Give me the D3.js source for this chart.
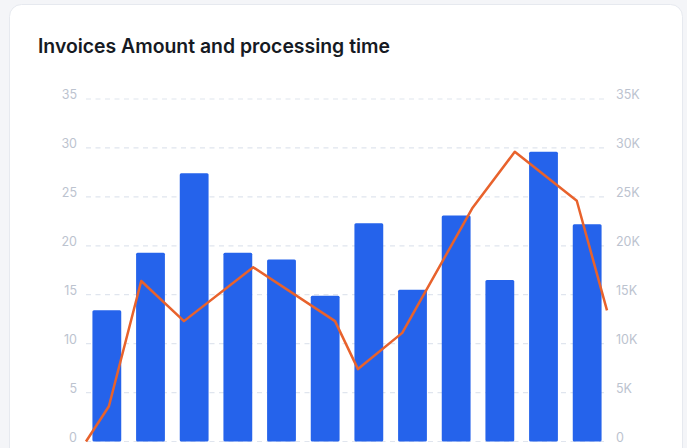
<!DOCTYPE html>
<html>
<head>
<meta charset="utf-8">
<script src="https://cdn.jsdelivr.net/npm/d3@7"></script>
<style>
  html, body { margin: 0; padding: 0; background: #f4f5f8; }
  body { width: 687px; height: 448px; overflow: hidden; }
  svg { display: block; font-family: Inter, "Noto Sans", sans-serif; }
</style>
</head>
<body>
<svg id="chart" width="687" height="448"></svg>
<script>
// invoices per period (bars, left axis)
var categories = ["P1", "P2", "P3", "P4", "P5", "P6", "P7", "P8", "P9", "P10", "P11", "P12"];
var invoiceCounts = [13.4, 19.3, 27.4, 19.3, 18.6, 14.9, 22.3, 15.5, 23.1, 16.5, 29.6, 22.2];

// amount line (right axis), positioned on its own time axis (0-100 of the period)
var amountX = [0, 4.4, 10.6, 18.8, 32.1, 47.8, 52.2, 60.7, 74.1, 82.3, 94.2, 100];
var amountValues = [0, 3600, 16400, 12300, 17800, 12300, 7400, 11100, 23800, 29600, 24600, 13400];

var leftTicks = [0, 5, 10, 15, 20, 25, 30, 35];
var rightTicks = [0, 5000, 10000, 15000, 20000, 25000, 30000, 35000];

var svg = d3.select("#chart");

// card
svg.append("rect")
    .attr("x", 9.5).attr("y", 4.5)
    .attr("width", 673).attr("height", 470)
    .attr("rx", 12)
    .attr("fill", "#ffffff")
    .attr("stroke", "#e6e9ef");

svg.append("text")
    .attr("x", 38)
    .attr("y", 53)
    .attr("fill", "#161a23")
    .attr("font-size", 19.4)
    .attr("font-weight", 600)
    .text("Invoices Amount and processing time");

var plotLeft = 86, plotRight = 607, plotTop = 99, plotBottom = 441.5;

var x = d3.scaleBand()
    .domain(categories)
    .range([85, 609])
    .paddingInner(0.34)
    .paddingOuter(0.17);

var xLine = d3.scaleLinear().domain([0, 100]).range([plotLeft, plotRight]);

var y = d3.scaleLinear().domain([0, 35]).range([plotBottom, plotTop]);
var y2 = d3.scaleLinear().domain([0, 35000]).range([plotBottom, plotTop]);

// grid
svg.append("g")
    .selectAll("line")
    .data(leftTicks)
    .enter().append("line")
        .attr("x1", plotLeft).attr("x2", plotRight)
        .attr("y1", function(d) { return y(d); })
        .attr("y2", function(d) { return y(d); })
        .attr("stroke", "#e0e5ee")
        .attr("stroke-width", 1.2)
        .attr("stroke-dasharray", "5,4.5");

// left axis (labels sit a little above their grid line)
var yAxis = d3.axisLeft(y).tickValues(leftTicks).tickSize(0).tickPadding(0);
var gl = svg.append("g")
    .attr("transform", "translate(77,-4.5)")
    .call(yAxis);
gl.select(".domain").remove();
gl.selectAll("text")
    .attr("fill", "#bcc3cf")
    .attr("font-size", 12.5)
    .attr("font-family", "Inter, sans-serif");

// right axis
var yAxis2 = d3.axisRight(y2).tickValues(rightTicks).tickSize(0).tickPadding(0)
    .tickFormat(function(d) { return d === 0 ? "0" : (d / 1000) + "K"; });
var gr = svg.append("g")
    .attr("transform", "translate(616,-4.5)")
    .call(yAxis2);
gr.select(".domain").remove();
gr.selectAll("text")
    .attr("fill", "#bcc3cf")
    .attr("font-size", 12.5)
    .attr("font-family", "Inter, sans-serif");

// bars
svg.append("g")
    .selectAll("rect")
    .data(invoiceCounts)
    .enter().append("rect")
        .attr("x", function(d, i) { return x(categories[i]); })
        .attr("y", function(d) { return y(d); })
        .attr("width", x.bandwidth())
        .attr("height", function(d) { return y(0) - y(d); })
        .attr("rx", 1.5)
        .attr("fill", "#2563eb");

// amount line
var line = d3.line()
    .x(function(d, i) { return xLine(amountX[i]); })
    .y(function(d) { return y2(d); });

svg.append("path")
    .datum(amountValues)
    .attr("d", line)
    .attr("fill", "none")
    .attr("stroke", "#e8622c")
    .attr("stroke-width", 2.5)
    .attr("stroke-linejoin", "round");
</script>
</body>
</html>
